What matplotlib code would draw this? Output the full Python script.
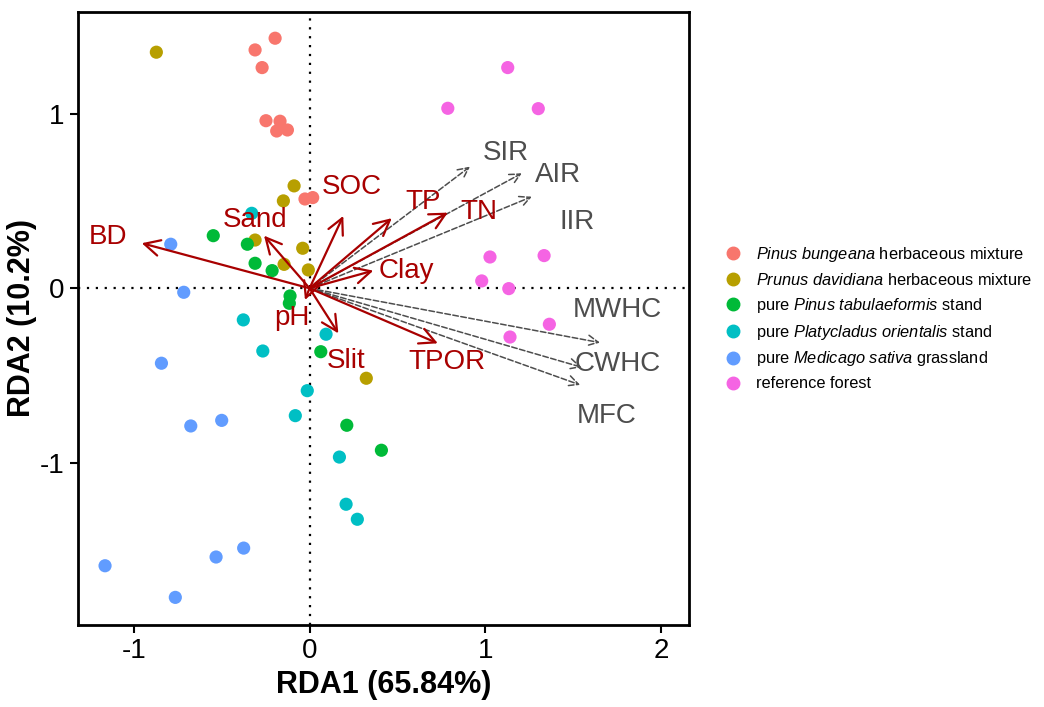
import matplotlib
matplotlib.use("Agg")
import matplotlib.pyplot as plt
from matplotlib.lines import Line2D

plt.rcParams['font.family'] = ['Liberation Sans', 'DejaVu Sans']
plt.rcParams['mathtext.fontset'] = 'custom'
plt.rcParams['mathtext.rm'] = 'Liberation Sans'
plt.rcParams['mathtext.it'] = 'Liberation Sans:italic'
plt.rcParams['axes.unicode_minus'] = False

# site scores by group (RDA1, RDA2)
groups = [
    r'$\it{Pinus\ bungeana}$ herbaceous mixture',
    r'$\it{Prunus\ davidiana}$ herbaceous mixture',
    r'pure $\it{Pinus\ tabulaeformis}$ stand',
    r'pure $\it{Platycladus\ orientalis}$ stand',
    r'pure $\it{Medicago\ sativa}$ grassland',
    'reference forest',
]
colors = ['#F8766D', '#B79F00', '#00BA38', '#00BFC4', '#619CFF', '#F564E3']

pb_x = [-0.196, -0.310, -0.270, -0.248, -0.168, -0.187, -0.126, -0.026, 0.018]
pb_y = [1.431, 1.364, 1.263, 0.959, 0.956, 0.900, 0.906, 0.511, 0.519]
pd_x = [-0.872, -0.088, -0.149, -0.310, -0.039, -0.145, -0.007, 0.323]
pd_y = [1.351, 0.586, 0.500, 0.276, 0.229, 0.137, 0.105, -0.515]
pt_x = [-0.548, -0.354, -0.310, -0.213, -0.111, -0.115, 0.064, 0.212, 0.409]
pt_y = [0.301, 0.252, 0.143, 0.101, -0.044, -0.086, -0.363, -0.784, -0.927]
po_x = [-0.329, -0.377, -0.266, 0.094, -0.013, -0.081, 0.170, 0.208, 0.272]
po_y = [0.429, -0.181, -0.359, -0.263, -0.586, -0.729, -0.966, -1.236, -1.322]
ms_x = [-0.790, -0.716, -0.843, -0.676, -0.500, -1.164, -0.764, -0.532, -0.375]
ms_y = [0.252, -0.023, -0.429, -0.788, -0.756, -1.588, -1.769, -1.538, -1.487]
rf_x = [1.128, 0.787, 1.302, 1.027, 1.335, 0.980, 1.134, 1.365, 1.141]
rf_y = [1.263, 1.030, 1.028, 0.179, 0.187, 0.042, -0.002, -0.206, -0.279]
group_x = [pb_x, pd_x, pt_x, po_x, ms_x, rf_x]
group_y = [pb_y, pd_y, pt_y, po_y, ms_y, rf_y]

# explanatory variables (arrow tips)
env_names = ['BD', 'Sand', 'SOC', 'TP', 'TN', 'Clay', 'pH', 'Slit', 'TPOR']
env_x = [-0.955, -0.259, 0.192, 0.468, 0.787, 0.363, -0.026, 0.164, 0.730]
env_y = [0.258, 0.301, 0.414, 0.401, 0.433, 0.101, -0.067, -0.258, -0.315]
env_lab = [(-1.147, 0.294), (-0.310, 0.391), (0.242, 0.580), (0.646, 0.494),
           (0.965, 0.437), (0.549, 0.099), (-0.100, -0.170), (0.208, -0.416),
           (0.783, -0.422)]

# response variables (dashed arrows)
resp_names = ['SIR', 'AIR', 'IIR', 'MWHC', 'CWHC', 'MFC']
resp_x = [0.913, 1.208, 1.265, 1.653, 1.549, 1.540]
resp_y = [0.696, 0.658, 0.524, -0.311, -0.452, -0.553]
resp_lab = [(1.118, 0.775), (1.414, 0.649), (1.523, 0.380), (1.750, -0.124),
            (1.756, -0.433), (1.693, -0.731)]

red = '#A80000'
grey = '#4D4D4D'

fig = plt.figure(figsize=(10.44, 7.07), dpi=100)
ax = fig.add_axes([0.0747, 0.116, 0.5853, 0.8675])

ax.axvline(0, color='black', ls=(0, (1, 3)), lw=1.6, zorder=1)
ax.axhline(0, color='black', ls=(0, (1, 3)), lw=1.6, zorder=1)

for gx, gy, c in zip(group_x, group_y, colors):
    ax.scatter(gx, gy, s=90, color=c, edgecolors='none', zorder=2)

for name, x, y, (lx, ly) in zip(resp_names, resp_x, resp_y, resp_lab):
    ax.annotate('', xy=(x, y), xytext=(0, 0),
                arrowprops=dict(arrowstyle='->,head_length=0.5,head_width=0.25',
                                color=grey, lw=1.1, ls='--', shrinkA=0, shrinkB=0,
                                mutation_scale=15), zorder=3)
    ax.text(lx, ly, name, color=grey, fontsize=20, ha='center', va='center', zorder=5)

for name, x, y, (lx, ly) in zip(env_names, env_x, env_y, env_lab):
    ax.annotate('', xy=(x, y), xytext=(0, 0),
                arrowprops=dict(arrowstyle='->,head_length=0.75,head_width=0.38',
                                color=red, lw=1.6, shrinkA=0, shrinkB=0,
                                mutation_scale=15), zorder=4)
    ax.text(lx, ly, name, color=red, fontsize=20, ha='center', va='center', zorder=5)

ax.set_xlim(-1.318, 2.16)
ax.set_ylim(-1.927, 1.583)
ax.set_xticks([-1, 0, 1, 2])
ax.set_yticks([-1, 0, 1])
ax.tick_params(labelsize=20, width=1.5, length=6, direction='out', colors='black')
for s in ax.spines.values():
    s.set_linewidth(2)
ax.set_xlabel('RDA1 (65.84%)', fontsize=22, fontweight='bold', labelpad=4)
ax.set_ylabel('RDA2 (10.2%)', fontsize=22, fontweight='bold', labelpad=2)

handles = [Line2D([], [], marker='o', ls='none', color=c, markersize=9) for c in colors]
fig.legend(handles, groups, loc='center left', bbox_to_anchor=(0.679, 0.55),
           frameon=False, fontsize=11.8, handletextpad=0.8, labelspacing=0.48,
           handlelength=1.2)

fig.savefig('out.png', dpi=100)
